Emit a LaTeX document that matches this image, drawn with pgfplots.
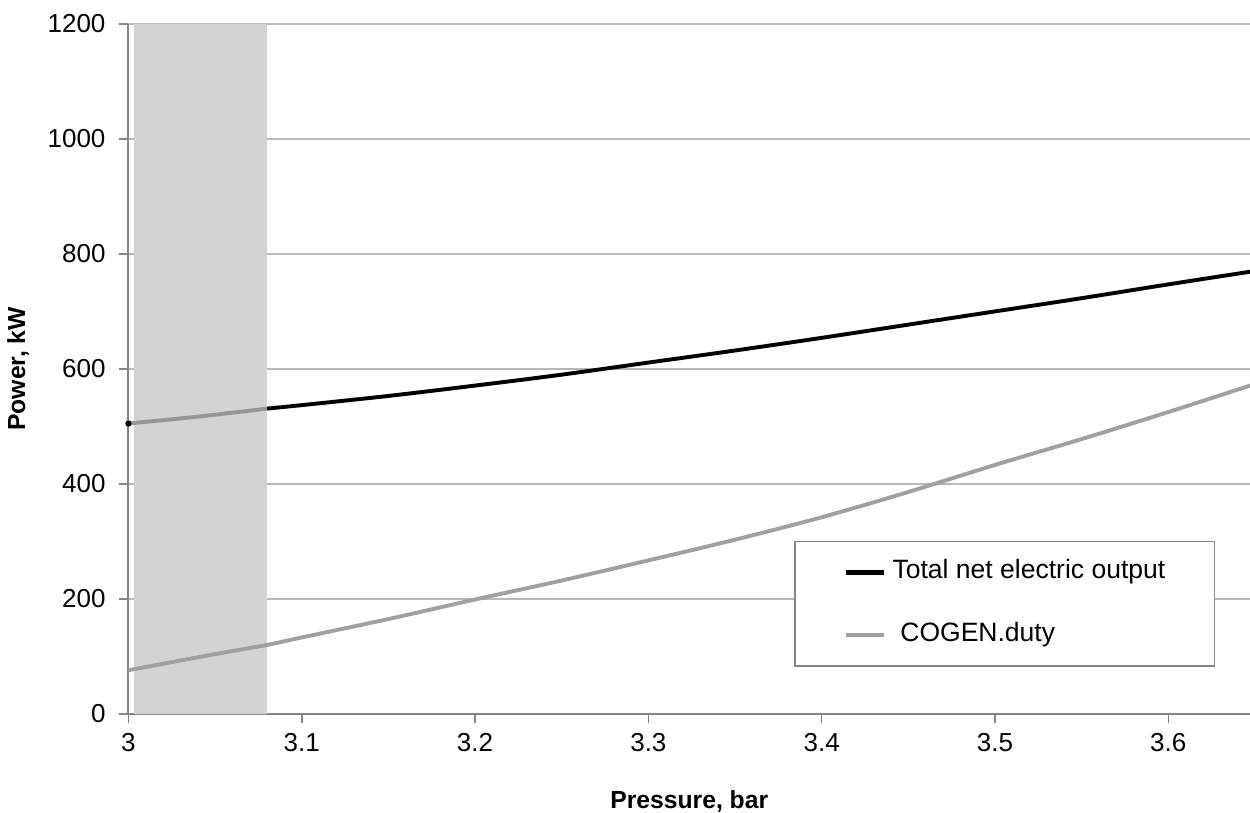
\documentclass[border=0pt]{standalone}
\usepackage{pgfplots}
\pgfplotsset{compat=1.18}
\usepackage{fontspec}
\setmainfont{Liberation Sans}
\definecolor{gridc}{RGB}{184,184,184}
\definecolor{axisc}{RGB}{134,134,134}
\definecolor{shadec}{RGB}{211,211,211}
\definecolor{seriesgray}{RGB}{160,160,160}
\definecolor{shadeblack}{RGB}{150,150,150}
\begin{document}
\begin{tikzpicture}
\useasboundingbox (0,0) rectangle (480.77pt,312.69pt);
\begin{axis}[
  at={(49.4pt,38.1pt)}, anchor=south west,
  scale only axis, width=431.4pt, height=265.4pt,
  xmin=3, xmax=3.6472, ymin=0, ymax=1200,
  axis x line*=bottom, axis y line*=left,
  axis line style={axisc, line width=0.8pt, -},
  xtick={3,3.1,3.2,3.3,3.4,3.5,3.6},
  ytick={0,200,400,600,800,1000,1200},
  xticklabels={3,3.1,3.2,3.3,3.4,3.5,3.6},
  yticklabels={0,200,400,600,800,1000,1200},
  tick align=outside, major tick length=3.5pt,
  tick style={axisc, line width=0.6pt},
  ymajorgrids, grid style={gridc, line width=0.7pt},
  tick label style={font=\fontsize{10}{12}\selectfont},
  yticklabel style={xshift=-1.8pt},
  xticklabel style={yshift=-0.5pt},
  /pgf/number format/assume math mode=true,
  xlabel={\textbf{Pressure, bar}},
  ylabel={\textbf{Power, kW}},
  xlabel style={font=\fontsize{9.5}{11}\selectfont, at={(axis description cs:0.5,-0.1275)}, anchor=center},
  ylabel style={font=\fontsize{9.5}{11}\selectfont, at={(axis description cs:-0.0984,0.5)}, anchor=center},
  legend style={at={(0.5934,0.2512)}, anchor=north west, draw=axisc, line width=0.6pt,
    inner xsep=19pt, inner ysep=7.2pt, row sep=14.8pt, column sep=2.3pt,
    font=\fontsize{10.2}{12}\selectfont,
    nodes={inner sep=0pt, text height=7.2pt, text depth=2.2pt}},
  legend cell align=left,
  legend image code/.code={\draw[#1, line width=1.7pt] (0pt,0pt) -- (14.6pt,0pt);},
  clip=true,
]
% shaded region
\addplot[draw=none, fill=shadec, forget plot] coordinates {(3.003,0) (3.08,0) (3.08,1200) (3.003,1200)} -- cycle;
% series
\addplot[black, line width=1.5pt, smooth] coordinates {
(3.08,531) (3.1,537) (3.15,553) (3.2,571) (3.25,590) (3.3,611) (3.35,632) (3.4,654) (3.45,677) (3.5,700) (3.55,723) (3.6,747) (3.6472,769)};
\addlegendentry{Total net electric output}
\addplot[seriesgray, line width=1.5pt, smooth] coordinates {
(3.0,76) (3.05,104) (3.08,120) (3.1,133) (3.15,165) (3.2,199) (3.25,232) (3.3,267) (3.35,303) (3.4,342) (3.45,386) (3.5,433) (3.55,478) (3.6,525) (3.6472,571)};
\addlegendentry{\hspace{3pt}COGEN.duty}
\addplot[shadeblack, line width=1.5pt, smooth, forget plot] coordinates {
(3.0,505) (3.04,517) (3.08,531)};
\addplot[black, only marks, mark=*, mark size=1pt, forget plot] coordinates {(3.0,505)};
\end{axis}
\end{tikzpicture}
\end{document}
